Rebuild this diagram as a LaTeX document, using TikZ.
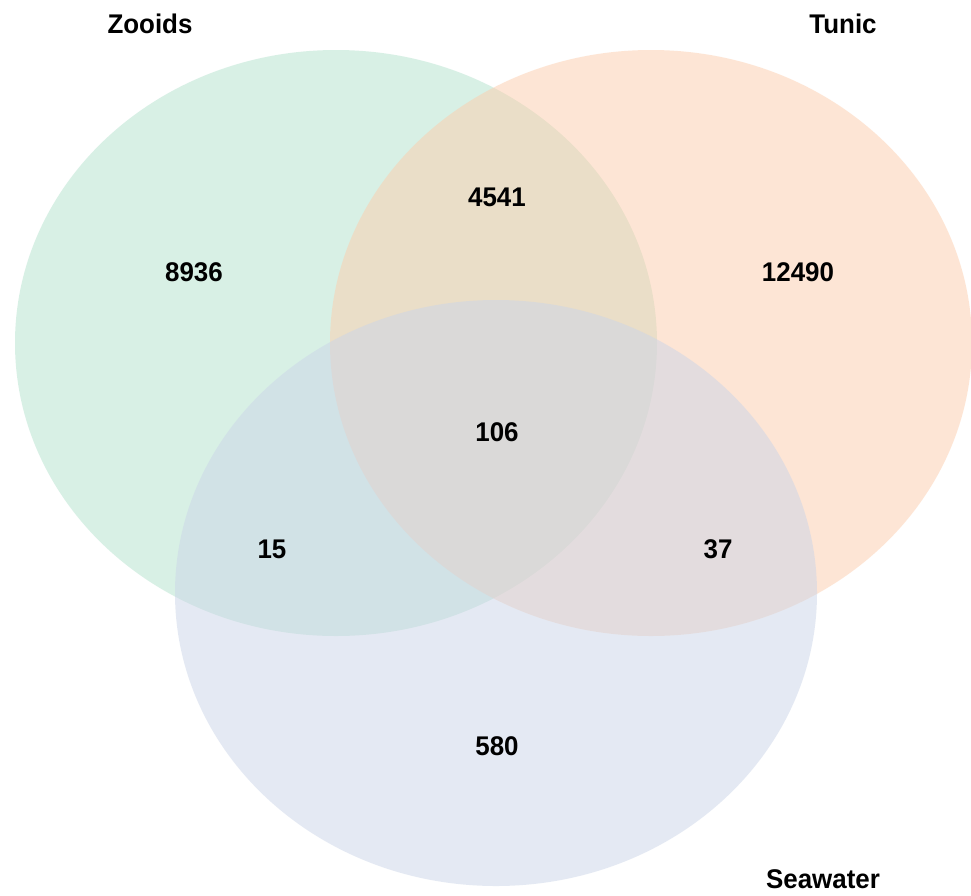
\documentclass[tikz,border=0pt]{standalone}
\usepackage{fontspec}
\setmainfont{Liberation Sans}
\definecolor{zoo}{HTML}{B3E2CD}
\definecolor{tun}{HTML}{FDCDAC}
\definecolor{sea}{HTML}{CBD5E8}
\tikzset{
  setfill/.style={fill=#1, fill opacity=0.5, draw=none},
  lbl/.style={font=\fontsize{27}{30}\selectfont\bfseries, text=black, inner sep=0pt, anchor=center, xscale=0.96},
}
\begin{document}
\begin{tikzpicture}[x=1pt,y=-1pt]
\useasboundingbox (0,0) rectangle (971,895);
\fill[white] (0,0) rectangle (971,895);
\path[setfill=zoo] (336,343) ellipse [x radius=321, y radius=293];
\path[setfill=tun] (651,343) ellipse [x radius=321, y radius=293];
\path[setfill=sea] (496,593) ellipse [x radius=321, y radius=293];
\node[lbl] (zooids) at (150,24) {Zooids};
\node[lbl] (tunic) at (843,24) {Tunic};
\node[lbl] (seawater) at (823,879) {Seawater};
\node[lbl] (a) at (194,272) {8936};
\node[lbl] (ab) at (497,197) {4541};
\node[lbl] (b) at (798,272) {12490};
\node[lbl] (abc) at (497,432) {106};
\node[lbl] (ac) at (272,549) {15};
\node[lbl] (bc) at (718,549) {37};
\node[lbl] (c) at (497,746) {580};
\end{tikzpicture}
\end{document}
